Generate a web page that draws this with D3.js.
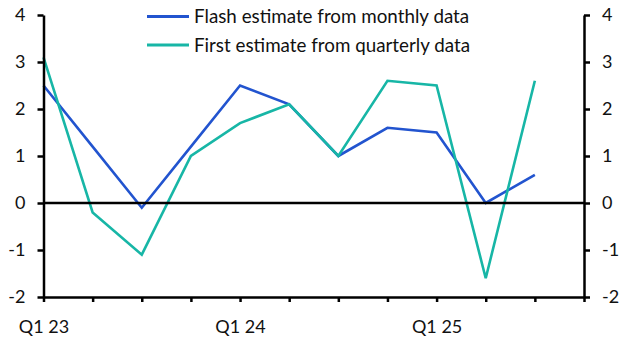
<!DOCTYPE html>
<html>
<head>
<meta charset="utf-8">
<script src="https://cdn.jsdelivr.net/npm/d3@7"></script>
<style>
  html, body { margin: 0; padding: 0; background: #fff; }
  svg { display: block; font-family: Lato, "Noto Sans", sans-serif; }
</style>
</head>
<body>
<svg id="chart" width="631" height="347"></svg>
<script>
// Quarterly GDP growth estimates (% q/q annualised)
const quarters = ["Q1 23","Q2 23","Q3 23","Q4 23","Q1 24","Q2 24","Q3 24","Q4 24","Q1 25","Q2 25","Q3 25","Q4 25"];
const flashMonthly = [2.5, 1.2, -0.1, 1.2, 2.5, 2.1, 1.0, 1.6, 1.5, 0.0, 0.6];
const firstQuarterly = [3.1, -0.2, -1.1, 1.0, 1.7, 2.1, 1.0, 2.6, 2.5, -1.6, 2.6];
const seriesNames = ["Flash estimate from monthly data", "First estimate from quarterly data"];
const yTicks = [-2, -1, 0, 1, 2, 3, 4];
const xLabelQuarters = ["Q1 23", "Q1 24", "Q1 25"];

const colors = ["#2254cf", "#17b6a6"];
const margin = { left: 43.5, right: 47, top: 15, bottom: 50 };
const W = 631, H = 347;
const svg = d3.select("#chart");

const x = d3.scalePoint().domain(quarters).range([margin.left, W - margin.right]);
const y = d3.scaleLinear().domain([-2, 4]).range([H - margin.bottom, margin.top]);

// Series lines
const line = d3.line().x((d, i) => x(quarters[i])).y(d => y(d));
[flashMonthly, firstQuarterly].forEach((vals, k) => {
  svg.append("path")
    .datum(vals)
    .attr("fill", "none")
    .attr("stroke", colors[k])
    .attr("stroke-width", 2.6)
    .attr("stroke-linejoin", "miter")
    .attr("d", line);
});

// Zero line
svg.append("line")
  .attr("x1", x.range()[0]).attr("x2", x.range()[1])
  .attr("y1", y(0)).attr("y2", y(0))
  .attr("stroke", "#000").attr("stroke-width", 2.5);

// Axes
const axisStyle = g => {
  g.select(".domain").attr("stroke", "#000").attr("stroke-width", 2.5);
  g.selectAll(".tick line").attr("stroke", "#000").attr("stroke-width", 2.5);
  g.selectAll("text").attr("fill", "#111").style("font-size", "18px").style("font-family", "Lato, 'Noto Sans', sans-serif");
};
// plain hyphen for negatives
const yFormat = d => String(d);

svg.append("g")
  .attr("transform", `translate(${margin.left},0)`)
  .call(d3.axisLeft(y).tickValues(yTicks).tickFormat(yFormat)
    .tickSize(6).tickSizeOuter(0).tickPadding(12))
  .call(axisStyle);

svg.append("g")
  .attr("transform", `translate(${W - margin.right},0)`)
  .call(d3.axisRight(y).tickValues(yTicks).tickFormat(yFormat)
    .tickSize(6).tickSizeOuter(0).tickPadding(12))
  .call(axisStyle);

svg.append("g")
  .attr("transform", `translate(0,${H - margin.bottom})`)
  .call(d3.axisBottom(x).tickSize(5).tickSizeOuter(0).tickPadding(18)
    .tickFormat(d => xLabelQuarters.includes(d) ? d : ""))
  .call(axisStyle);

// Legend
const legend = svg.append("g");
seriesNames.forEach((name, k) => {
  const ly = 16.5 + k * 28.5;
  legend.append("line")
    .attr("x1", 147).attr("x2", 189)
    .attr("y1", ly).attr("y2", ly)
    .attr("stroke", colors[k]).attr("stroke-width", 2.8);
  legend.append("text")
    .attr("x", 194).attr("y", ly)
    .attr("dy", "0.35em")
    .attr("fill", "#111")
    .style("font-size", "18.8px")
    .text(name);
});
</script>
</body>
</html>
